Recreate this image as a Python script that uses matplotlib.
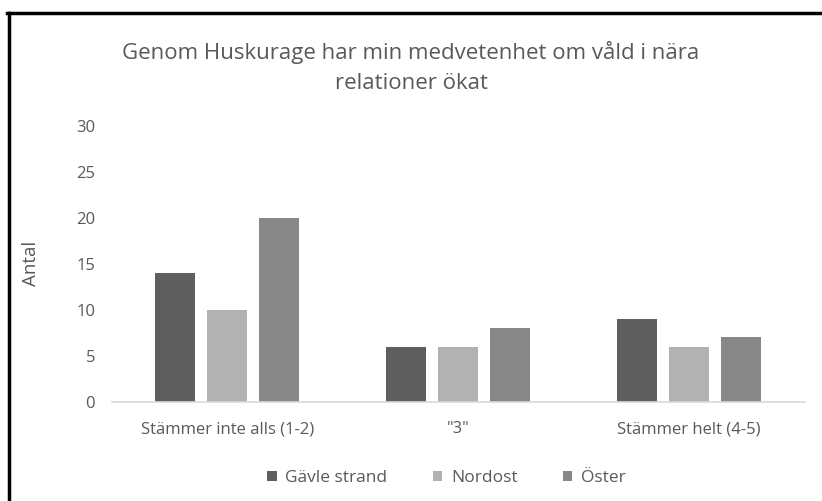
import numpy as np
import matplotlib.pyplot as plt
from matplotlib.lines import Line2D

categories = ['Stämmer inte alls (1-2)', '"3"', 'Stämmer helt (4-5)']
series = ['Gävle strand', 'Nordost', 'Öster']
gavle = [14, 6, 9]
nordost = [10, 6, 6]
oster = [20, 8, 7]
colors = ['#5f5f5f', '#b2b2b2', '#878787']

plt.rcParams['font.family'] = ['Open Sans', 'DejaVu Sans']
txt = '#595959'

fig = plt.figure(figsize=(8.22, 5.01), dpi=100)
ax = fig.add_axes([0.136, 0.198, 0.843, 0.551])

x = np.arange(len(categories))
w = 0.173
step = 0.225
for i, (vals, name) in enumerate(zip([gavle, nordost, oster], series)):
    ax.bar(x + (i - 1) * step, vals, width=w, color=colors[i], label=name)

ax.set_xlim(-0.5, 2.5)
ax.set_ylim(0, 30)
ax.set_yticks(range(0, 31, 5))
ax.set_xticks(x)
ax.set_xticklabels(categories)
ax.tick_params(axis='both', length=0, colors=txt, labelsize=12)
ax.tick_params(axis='x', pad=14)
ax.tick_params(axis='y', pad=12)
for s in ['top', 'right', 'left']:
    ax.spines[s].set_visible(False)
ax.spines['bottom'].set_color('#d9d9d9')
ax.spines['bottom'].set_linewidth(1.2)

ax.set_ylabel('Antal', color=txt, fontsize=13.5, labelpad=26)
fig.text(0.5, 0.866, 'Genom Huskurage har min medvetenhet om våld i nära\nrelationer ökat',
         ha='center', va='center', color=txt, fontsize=16, linespacing=1.55)

ax.legend(loc='upper center', bbox_to_anchor=(0.483, -0.19), ncol=3, frameon=False,
          fontsize=12.5, labelcolor=txt, handlelength=0.55, handleheight=0.55,
          handletextpad=0.5, columnspacing=2.6)

# outer frame (only top and left visible in the crop)
fig.add_artist(Line2D([0.009, 1.0], [0.974, 0.974], color='black', lw=2.5, transform=fig.transFigure))
fig.add_artist(Line2D([0.011, 0.011], [0.0, 0.974], color='black', lw=2.5, transform=fig.transFigure))

fig.savefig('out.png', dpi=100)
